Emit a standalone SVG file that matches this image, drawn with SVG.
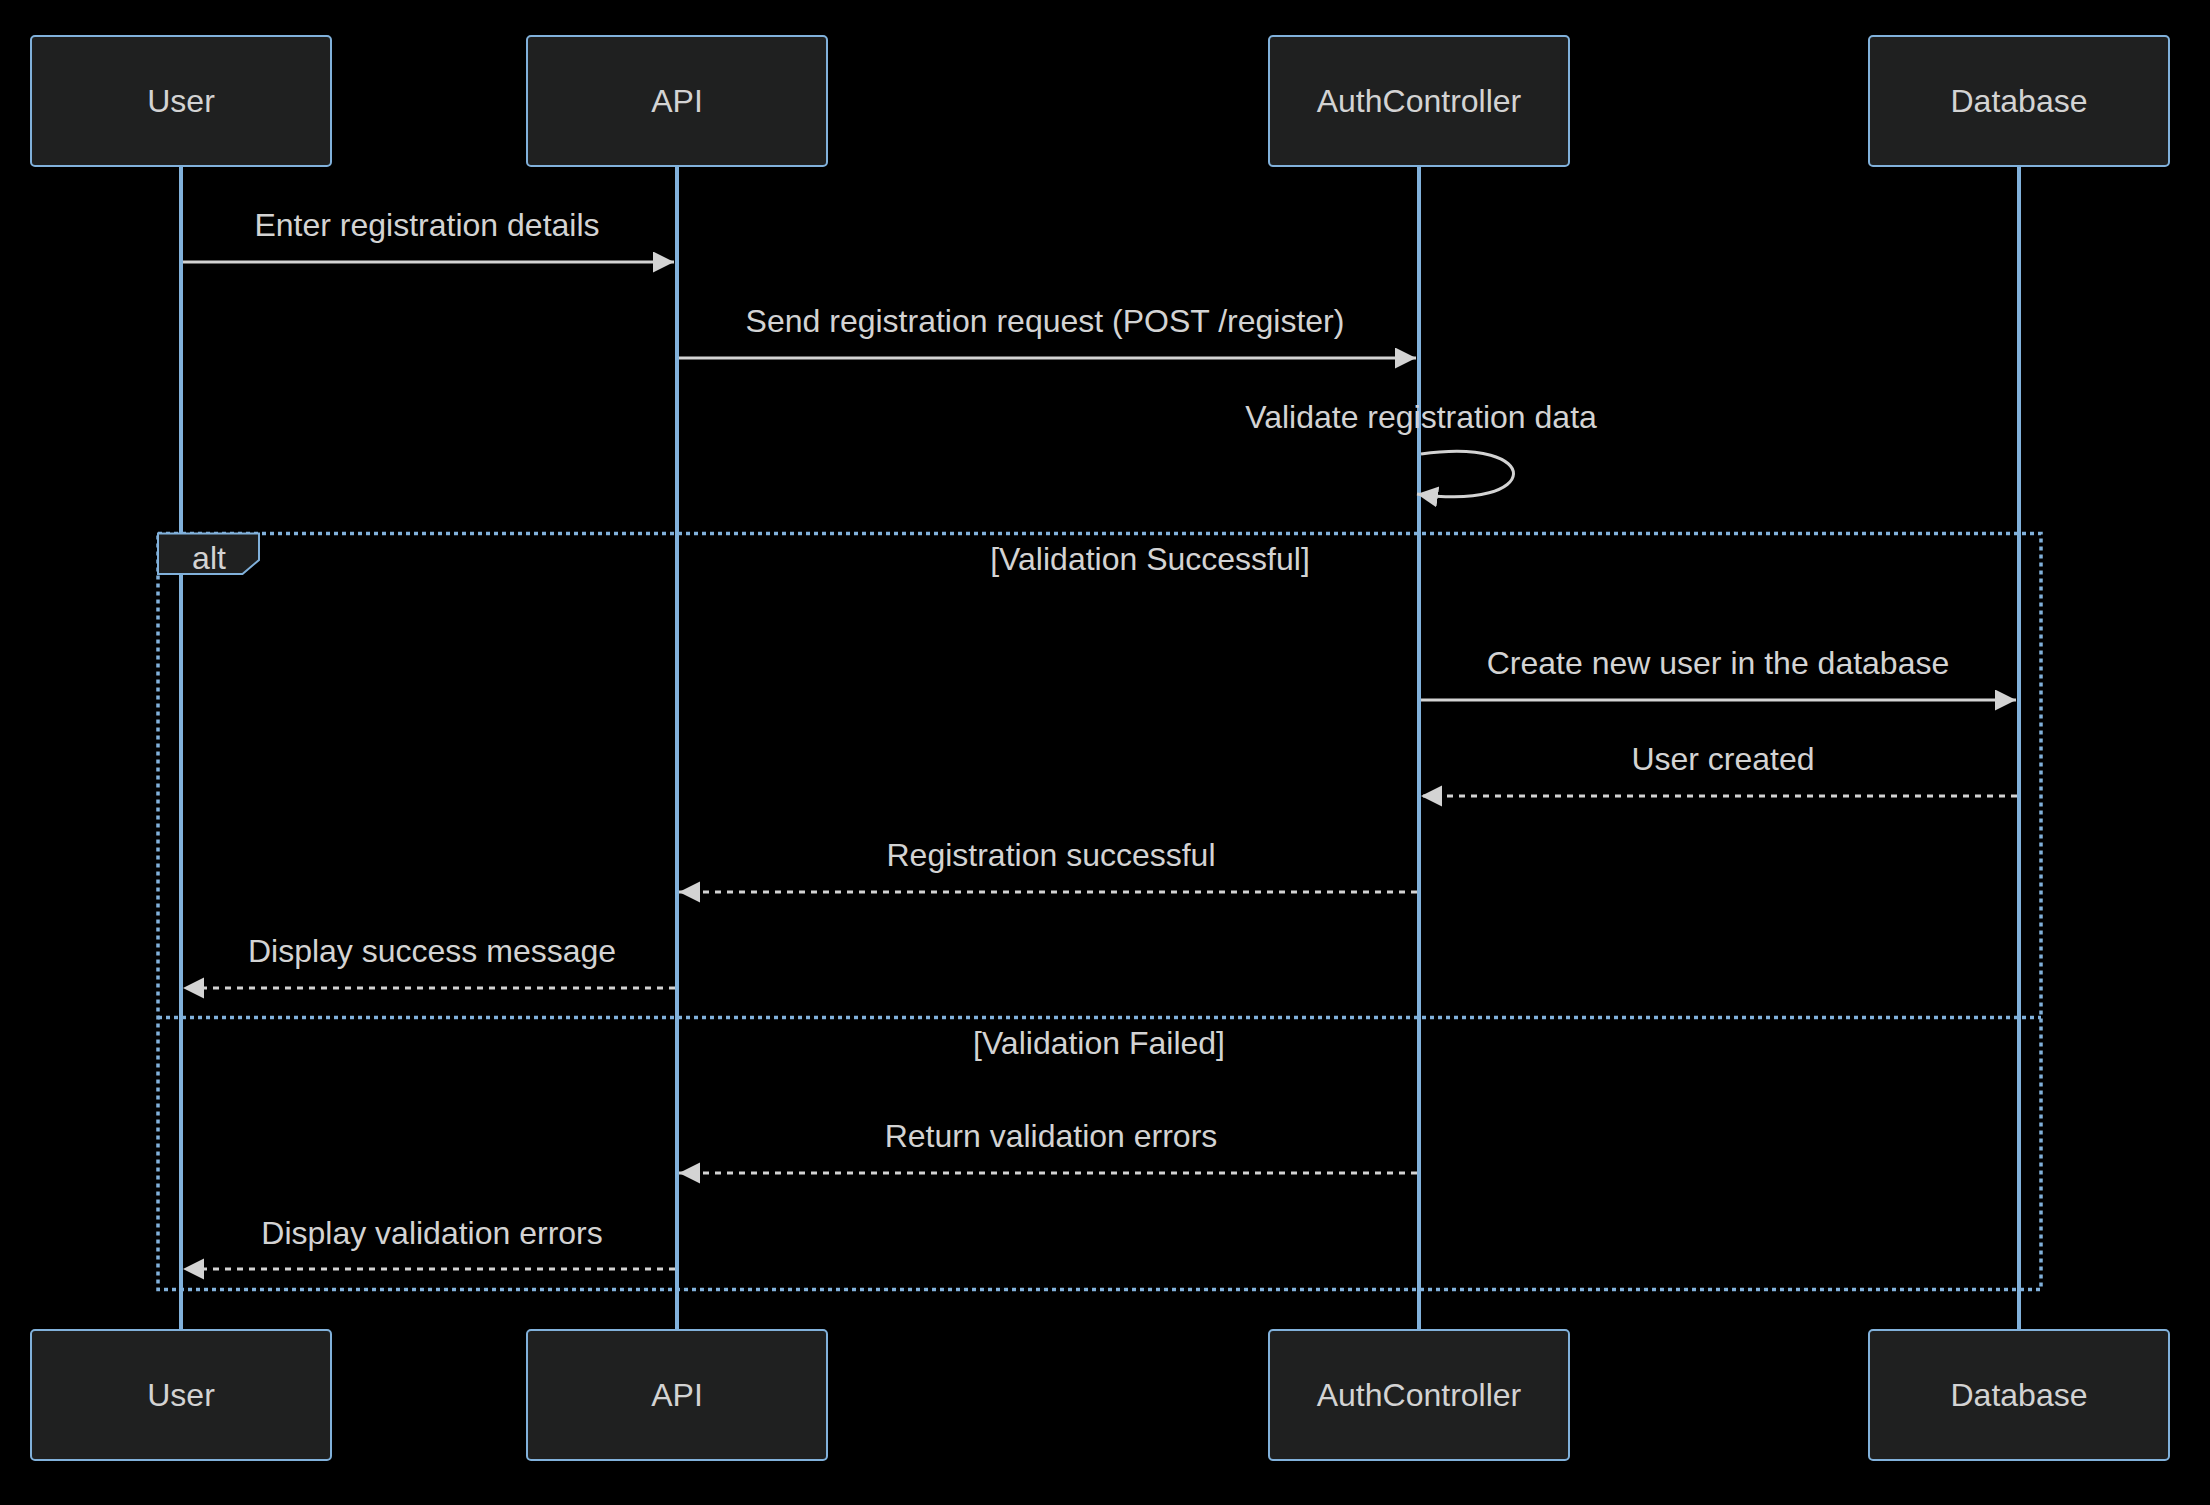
<svg xmlns="http://www.w3.org/2000/svg" width="2210" height="1505" viewBox="0 0 2210 1505">
<style>
.bg{fill:#000000}
.actor rect{fill:#1f2020;stroke:#81B1DB;stroke-width:2}
.actor text{font-family:"Liberation Sans",Arial,sans-serif;font-size:32px;fill:#d3d3d3;text-anchor:middle}
.lifeline{stroke:#81B1DB;stroke-width:4}
.msg{stroke:#d3d3d3;stroke-width:3;fill:none}
.dash{stroke-dasharray:6 6}
.mtext{font-family:"Liberation Sans",Arial,sans-serif;font-size:32px;fill:#d3d3d3;text-anchor:middle}
.frame{stroke:#81B1DB;stroke-width:3.5;stroke-dasharray:4 4;fill:none}
.labelbox{fill:#1f2020;stroke:#81B1DB;stroke-width:2}
</style>
<defs>
<marker id="arrow" markerUnits="userSpaceOnUse" markerWidth="24" markerHeight="24" refX="21" refY="10.5" orient="auto">
<path d="M0,0 L21,10.5 L0,21 z" fill="#d3d3d3"/>
</marker>
</defs>
<rect class="bg" x="0" y="0" width="2210" height="1505"/>
<g id="lifelines">
<line class="lifeline" x1="181" y1="166" x2="181" y2="1330"/>
<line class="lifeline" x1="677" y1="166" x2="677" y2="1330"/>
<line class="lifeline" x1="1419" y1="166" x2="1419" y2="1330"/>
<line class="lifeline" x1="2019" y1="166" x2="2019" y2="1330"/>
</g>
<g id="alt-frame">
<rect class="frame" x="158" y="533.5" width="1883" height="756"/>
<line class="frame" x1="158" y1="1017.5" x2="2041" y2="1017.5"/>
<polygon class="labelbox" points="158,533.5 259,533.5 259,560 242.5,574 158,574"/>
<text class="mtext" x="209" y="569">alt</text>
<text class="mtext" x="1150" y="570">[Validation Successful]</text>
<text class="mtext" x="1099" y="1054">[Validation Failed]</text>
</g>
<g id="actor-user-top" class="actor"><rect x="31" y="36" width="300" height="130" rx="4"/><text x="181" y="112">User</text></g>
<g id="actor-api-top" class="actor"><rect x="527" y="36" width="300" height="130" rx="4"/><text x="677" y="112">API</text></g>
<g id="actor-auth-top" class="actor"><rect x="1269" y="36" width="300" height="130" rx="4"/><text x="1419" y="112">AuthController</text></g>
<g id="actor-db-top" class="actor"><rect x="1869" y="36" width="300" height="130" rx="4"/><text x="2019" y="112">Database</text></g>
<g id="actor-user-bottom" class="actor"><rect x="31" y="1330" width="300" height="130" rx="4"/><text x="181" y="1406">User</text></g>
<g id="actor-api-bottom" class="actor"><rect x="527" y="1330" width="300" height="130" rx="4"/><text x="677" y="1406">API</text></g>
<g id="actor-auth-bottom" class="actor"><rect x="1269" y="1330" width="300" height="130" rx="4"/><text x="1419" y="1406">AuthController</text></g>
<g id="actor-db-bottom" class="actor"><rect x="1869" y="1330" width="300" height="130" rx="4"/><text x="2019" y="1406">Database</text></g>
<g id="connectors">
<text class="mtext" x="427" y="236">Enter registration details</text>
<line class="msg" x1="183" y1="262" x2="674" y2="262" marker-end="url(#arrow)"/>
<text class="mtext" x="1045" y="332">Send registration request (POST /register)</text>
<line class="msg" x1="679" y1="358" x2="1416" y2="358" marker-end="url(#arrow)"/>
<text class="mtext" x="1421" y="428">Validate registration data</text>
<path class="msg" d="M1421,454 C1545,436 1545,512 1417,494" marker-end="url(#arrow)"/>
<text class="mtext" x="1718" y="674">Create new user in the database</text>
<line class="msg" x1="1421" y1="700" x2="2016" y2="700" marker-end="url(#arrow)"/>
<text class="mtext" x="1723" y="770">User created</text>
<line class="msg" style="stroke-dasharray:6 6" x1="2017" y1="796" x2="1421" y2="796" marker-end="url(#arrow)"/>
<text class="mtext" x="1051" y="866">Registration successful</text>
<line class="msg dash" x1="1417" y1="892" x2="679" y2="892" marker-end="url(#arrow)"/>
<text class="mtext" x="432" y="962">Display success message</text>
<line class="msg dash" x1="675" y1="988" x2="183" y2="988" marker-end="url(#arrow)"/>
<text class="mtext" x="1051" y="1147">Return validation errors</text>
<line class="msg dash" x1="1417" y1="1173" x2="679" y2="1173" marker-end="url(#arrow)"/>
<text class="mtext" x="432" y="1244">Display validation errors</text>
<line class="msg dash" x1="675" y1="1269" x2="183" y2="1269" marker-end="url(#arrow)"/>
</g>
</svg>
